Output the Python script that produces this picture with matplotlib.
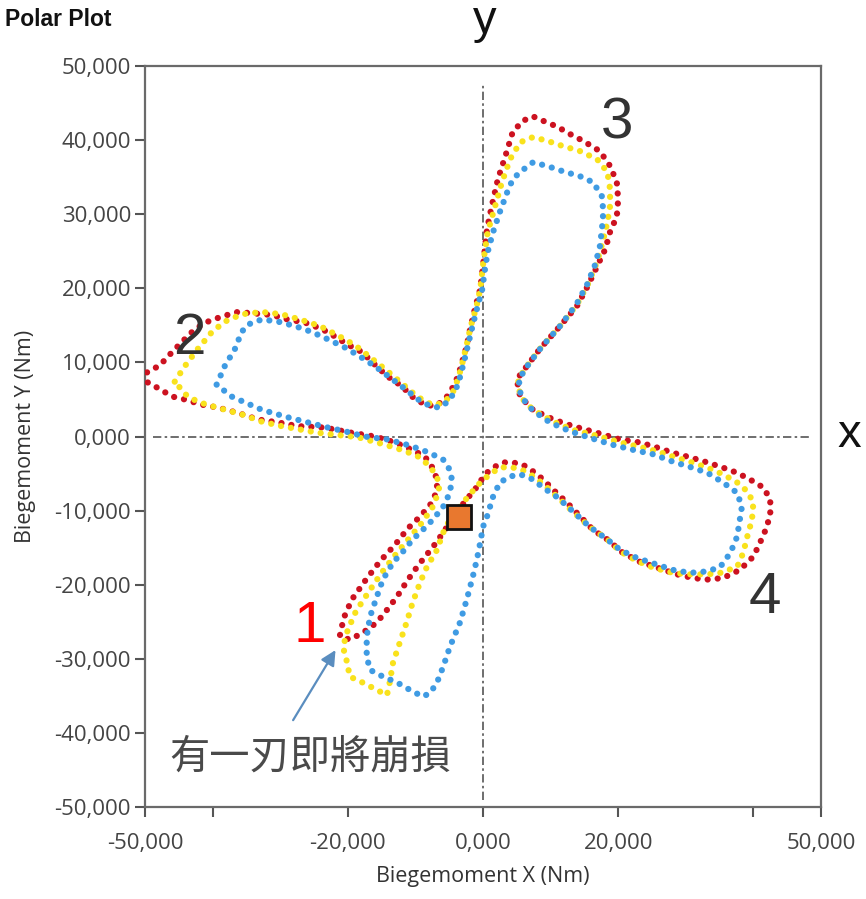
import numpy as np
import matplotlib
matplotlib.use("Agg")
import matplotlib.pyplot as plt
from matplotlib.ticker import FixedLocator, FixedFormatter

# ---- data (kNm) ----
red_x = [-51.0, -47.8, -46.6, -44.6, -42.6, -40.7, -38.6, -36.3, -33.8, -31.2, -28.9, -26.4, -23.8, -21.9, -20.0,
         -17.9, -16.0, -14.1, -12.0, -10.5, -8.6, -7.1, -5.6, -4.6, -3.7, -3.1, -2.4, -1.9, -1.2, -0.4, 0.0, 0.6,
         1.3, 2.2, 3.3, 4.4, 5.9, 7.4, 8.9, 11.0, 12.9, 14.8, 17.3, 18.8, 19.8, 20.0, 19.8, 18.8, 18.1, 16.9, 15.5,
         13.9, 11.4, 8.4, 6.5, 5.0, 5.5, 7.4, 10.4, 13.3, 16.9, 20.3, 23.2, 25.8, 28.1, 30.6, 33.2, 35.5, 37.6,
         39.5, 41.5, 42.5, 42.5, 42.0, 41.0, 40.0, 38.0, 35.5, 33.2, 31.1, 28.7, 25.8, 23.2, 20.7, 18.4, 16.3,
         14.4, 12.4, 10.4, 8.9, 7.4, 5.9, 4.4, 3.0, 1.5, 0.3, -0.9, -2.7, -4.4, -5.9, -7.4, -8.9, -10.4, -11.8,
         -12.7, -14.2, -15.7, -17.8, -19.7, -21.2, -20.6, -19.4, -17.3, -15.2, -13.0, -11.1, -9.3, -7.8, -6.8,
         -6.8, -7.4, -8.6, -10.5, -13.0, -16.0, -19.4, -23.4, -27.4, -30.3, -33.3, -36.3, -39.2, -41.6, -44.1,
         -46.0, -47.8, -51.0]
red_y = [8.0, 9.6, 10.8, 12.7, 14.5, 15.5, 16.2, 16.8, 16.6, 16.4, 15.8, 15.4, 14.5, 13.5, 12.4,
         11.4, 9.7, 8.1, 6.8, 5.4, 4.3, 4.1, 5.0, 6.4, 8.1, 10.0, 12.2, 14.5, 17.2, 19.9, 23.0, 28.0,
         31.1, 34.7, 37.8, 41.1, 42.6, 43.2, 42.6, 41.8, 40.8, 39.9, 38.5, 36.5, 34.3, 32.0, 29.7, 27.6, 25.3, 23.0, 20.3,
         17.6, 14.9, 11.8, 9.5, 7.7, 5.4, 3.6, 2.3, 1.4, 0.5, -0.4, -0.8, -1.5, -2.2, -2.8, -3.5, -4.2, -4.9,
         -5.8, -6.9, -8.5, -10.3, -12.2, -14.3, -16.2, -18.0, -19.1, -19.3, -19.1, -18.6, -17.7, -16.9, -15.7, -13.9, -12.6,
         -10.8, -8.9, -7.2, -5.8, -4.7, -3.8, -3.5, -3.5, -4.2, -5.1, -6.8, -8.8, -10.9, -13.0, -14.9, -16.6, -18.4, -20.3,
         -21.6, -23.4, -25.1, -26.5, -27.4, -27.0, -24.5, -22.0, -19.3, -16.8, -14.6, -12.4, -10.8, -9.2, -7.4,
         -5.8, -4.3, -2.7, -1.8, -0.8, 0.0, 0.5, 1.2, 1.4, 1.9, 2.3, 3.2, 3.9, 4.3, 5.0,
         5.4, 6.4, 8.0]

yellow_x = [-45.6, -44.1, -42.2, -40.1, -38.2, -35.7, -32.7, -29.8, -27.1, -24.1, -21.2, -18.9, -16.7, -14.5, -12.3,
            -10.4, -8.6, -7.1, -5.6, -4.4, -3.6, -3.0, -2.4, -1.8, -1.0, -0.4, 0.1, 0.7, 1.8, 2.8, 4.0, 5.5, 7.4,
            9.5, 11.8, 14.4, 16.9, 18.4, 18.8, 18.8, 18.4, 17.8, 16.9, 15.5, 13.9, 11.4, 8.4, 6.5, 5.2, 5.5, 7.4,
            10.4, 13.3, 17.3, 20.3, 23.2, 25.8, 28.1, 30.6, 33.2, 35.5, 37.6, 39.1, 40.0, 39.8, 39.1, 38.5, 37.6,
            35.1, 33.2, 30.2, 28.1, 25.2, 22.8, 20.3, 18.4, 15.8, 13.6, 11.4, 9.5, 7.7, 5.8, 4.0, 2.5, 1.0, -0.7,
            -2.2, -3.8, -4.9, -5.9, -6.8, -8.3, -9.3, -10.4, -11.3, -12.3, -13.3, -13.8, -14.2, -15.7, -17.8, -19.7,
            -20.1, -20.7, -20.0, -18.8, -17.0, -15.0, -12.9, -10.8, -9.0, -7.5, -6.7, -6.4, -7.0, -8.1, -9.6, -11.7,
            -14.5, -18.5, -24.4, -29.8, -32.7, -35.7, -40.1, -41.9, -43.7, -45.6]
yellow_y = [7.4, 9.5, 11.8, 14.1, 15.5, 16.5, 16.8, 16.5, 15.8, 14.9, 13.5, 12.3, 10.7, 9.1, 7.4,
            5.9, 4.7, 4.2, 4.7, 6.1, 8.0, 10.1, 12.4, 14.9, 17.4, 19.9, 23.9, 27.6, 31.1, 34.3, 37.4, 39.7, 40.4,
            39.9, 39.2, 38.5, 37.4, 35.7, 33.4, 31.1, 28.9, 26.6, 23.6, 20.5, 17.8, 14.9, 11.8, 9.5, 7.7, 5.4, 3.6,
            2.0, 0.9, 0.0, -0.8, -1.4, -2.0, -2.7, -3.4, -4.2, -5.1, -6.2, -7.4, -8.9, -11.2, -13.5, -15.7, -17.6,
            -18.4, -18.6, -18.6, -18.4, -17.7, -16.8, -15.5, -13.9, -12.2, -10.4, -8.5, -6.9, -5.5, -4.5, -4.1, -4.2, -5.1, -6.5,
            -8.1, -9.9, -11.2, -13.0, -15.3, -17.6, -19.7, -22.4, -25.1, -27.8, -30.5, -33.2, -34.9, -34.2, -33.2, -32.4,
            -30.5, -28.4, -26.1, -23.6, -21.1, -18.4, -15.9, -13.6, -11.6, -9.6, -7.8, -6.5, -5.1, -3.8, -2.7, -1.9,
            -1.1, -0.1, 0.5, 1.4, 2.0, 3.0, 4.1, 4.6, 5.4, 7.4]

blue_x = [-39.4, -38.2, -36.7, -35.7, -34.8, -32.7, -30.3, -27.8, -25.3, -22.9, -20.4, -18.2, -16.0, -13.8, -11.5,
          -9.6, -7.8, -6.4, -5.2, -4.1, -3.4, -2.8, -2.2, -1.6, -0.9, -0.1, 0.3, 0.7, 1.5, 2.5, 3.6, 4.4, 5.5,
          7.4, 9.5, 11.8, 14.4, 16.3, 17.6, 17.8, 17.6, 17.3, 16.6, 15.4, 13.8, 11.4, 8.6, 6.7, 5.3, 5.6, 7.4,
          9.9, 12.9, 16.6, 19.5, 22.2, 25.2, 28.1, 30.6, 33.2, 35.5, 37.6, 38.3, 38.0, 37.6, 36.6, 35.1, 33.2,
          30.6, 28.1, 25.8, 22.8, 20.3, 18.4, 15.8, 13.3, 11.0, 8.9, 7.4, 5.5, 4.0, 2.5, 1.5, 0.6, 0.0, -0.4,
          -0.9, -1.5, -2.4, -3.4, -4.9, -5.9, -6.8, -7.8, -8.9, -10.8, -12.7, -14.8, -16.7, -17.2, -17.2, -16.7,
          -15.7, -14.8, -13.3, -11.8, -10.4, -8.9, -7.4, -5.9, -4.9, -4.6, -4.9, -5.9, -7.5, -9.0, -11.3, -14.1,
          -17.5, -20.4, -22.9, -25.9, -28.9, -32.7, -35.2, -37.2, -39.4]
blue_y = [7.0, 9.5, 11.8, 14.1, 15.1, 15.8, 15.5, 14.9, 14.1, 13.1, 12.0, 10.8, 9.5, 8.0, 6.4,
          5.0, 4.1, 3.9, 4.7, 6.1, 8.0, 10.1, 12.4, 14.7, 17.2, 19.9, 22.6, 24.9, 27.6, 30.3, 33.0, 34.7, 35.7,
          37.0, 36.5, 35.8, 35.1, 34.3, 32.4, 30.3, 28.0, 25.7, 23.2, 20.5, 17.8, 14.9, 12.0, 9.7, 7.7, 5.4, 3.5,
          1.9, 0.7, -0.4, -1.2, -1.8, -2.4, -3.4, -4.1, -4.9, -6.2, -7.6, -9.5, -11.2, -13.5, -15.7, -17.6, -18.2,
          -18.4, -18.0, -17.3, -16.4, -15.3, -13.9, -12.2, -10.1, -8.2, -6.9, -5.8, -5.1, -5.4, -6.2, -8.1, -10.8, -12.2, -14.3,
          -16.6, -18.9, -22.0, -25.1, -28.4, -31.1, -33.2, -34.6, -35.1, -34.2, -33.2, -32.4, -31.5, -29.7, -27.0, -24.3,
          -21.6, -19.3, -17.0, -15.5, -13.9, -12.6, -11.2, -9.5, -7.6, -5.8, -4.5, -3.1, -2.4, -1.8, -1.1, -0.4,
          0.0, 0.7, 1.2, 1.9, 2.6, 3.6, 4.6, 5.4, 7.0]

marker_xy = (-3.6, -10.9)          # orange square
x_ticks = [-50, -40, -20, 0, 20, 40, 50]
x_tick_labels = ["-50,000", "", "-20,000", "0,000", "20,000", "", "50,000"]
y_ticks = [-50, -40, -30, -20, -10, 0, 10, 20, 30, 40, 50]
y_tick_labels = [f"{v},000" for v in y_ticks]

K = 1000.0
RED, YELLOW, BLUE = "#CC1220", "#F9E21C", "#3F9BE3"

fig = plt.figure(figsize=(8.66, 8.99), dpi=100)
ax = fig.add_axes([0.1674, 0.1023, 0.7806, 0.8243])
ax.set_xlim(-50 * K, 50 * K)
ax.set_ylim(-50 * K, 50 * K)

# crosshair
ax.axhline(0, xmin=0.012, xmax=0.985, color="#555555", lw=1.2, ls=(0, (5, 2, 1.5, 2)), zorder=1)
ax.axvline(0, ymin=0.01, ymax=0.975, color="#555555", lw=1.2, ls=(0, (5, 2, 1.5, 2)), zorder=1)

dot = (0, (0.01, 1.6))
for xs, ys, c in ((red_x, red_y, RED), (yellow_x, yellow_y, YELLOW), (blue_x, blue_y, BLUE)):
    ax.plot(np.array(xs) * K, np.array(ys) * K, color=c, lw=4.5, ls=dot,
            dash_capstyle="round", zorder=3)

ax.plot([marker_xy[0] * K], [marker_xy[1] * K], marker="s", ms=17, mfc="#E8782F",
        mec="#111111", mew=2, ls="none", zorder=5)

# ticks / spines
ax.xaxis.set_major_locator(FixedLocator([v * K for v in x_ticks]))
ax.xaxis.set_major_formatter(FixedFormatter(x_tick_labels))
ax.yaxis.set_major_locator(FixedLocator([v * K for v in y_ticks]))
ax.yaxis.set_major_formatter(FixedFormatter(y_tick_labels))
ax.tick_params(direction="out", length=7, width=1.5, color="#555555")
ax.tick_params(axis="x", pad=12)
ax.tick_params(axis="y", pad=3)
for lab in ax.get_xticklabels() + ax.get_yticklabels():
    lab.set_fontfamily("Open Sans")
    lab.set_fontsize(16)
    lab.set_color("#444444")
for s in ax.spines.values():
    s.set_color("#6a6a6a")
    s.set_linewidth(1.6)

ax.set_xlabel("Biegemoment X (Nm)", fontfamily="Open Sans", fontsize=15.5, color="#333333", labelpad=8)
ax.set_ylabel("Biegemoment Y (Nm)", fontfamily="Open Sans", fontsize=15.5, color="#333333", labelpad=13)

# lobe numbers
num_font = dict(family="Liberation Sans", fontsize=42, ha="center", va="center")
ax.text(-25.6 * K, -25.7 * K, "1", color="#FF0000", **num_font)
ax.text(-43.4 * K, 13.1 * K, "2", color="#333333", **num_font)
ax.text(19.8 * K, 42.2 * K, "3", color="#333333", **num_font)
ax.text(41.7 * K, -21.8 * K, "4", color="#333333", **num_font)

# annotation
ax.annotate("", xy=(-21.6 * K, -28.5 * K), xytext=(-28.3 * K, -38.6 * K),
            arrowprops=dict(arrowstyle="-|>,head_length=0.9,head_width=0.45", color="#5A8DBF", lw=1.6),
            zorder=6)
ax.text(-25.6 * K, -43.3 * K, "有一刃即將崩損", family=["Noto Sans CJK TC", "DejaVu Sans"],
        fontsize=29, color="#4a4a4a", ha="center", va="center", zorder=6)

# outside labels
fig.text(0.006, 0.978, "Polar Plot", family="Liberation Sans", weight="bold", fontsize=16.5,
         color="#111111", ha="left", va="center")
fig.text(0.981, 0.516, "x", family="Liberation Sans", fontsize=34, color="#111111", ha="center", va="center")
fig.text(0.560, 0.963, "y", family="Liberation Sans", fontsize=34, color="#111111", ha="center", va="baseline")

fig.savefig("out.png", dpi=100)
